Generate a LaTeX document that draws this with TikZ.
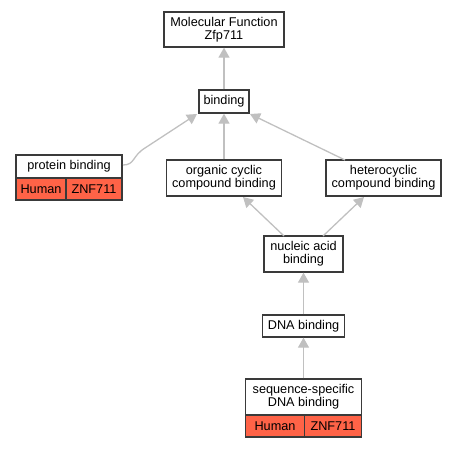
\documentclass[tikz,border=0pt]{standalone}
\usepackage{fontspec}
\setmainfont{Liberation Sans}
\usetikzlibrary{arrows.meta}
\definecolor{edgegray}{HTML}{C0C0C0}
\definecolor{boxborder}{HTML}{3A3A3A}
\definecolor{tomatofill}{HTML}{FF6347}
\tikzset{
  term/.style={draw=boxborder, line width=1.3pt, fill=white, inner sep=0pt, align=center,
    font=\fontsize{12.7}{12.7}\selectfont},
  cell/.style={draw=boxborder, line width=1.1pt, fill=tomatofill, inner sep=0pt,
    font=\fontsize{12.7}{12.7}\selectfont},
  edge/.style={draw=edgegray, line width=1.3pt, -{Triangle[length=10pt,width=11pt]}},
}
\begin{document}
\begin{tikzpicture}[x=1pt,y=-1pt]
\useasboundingbox (0,0) rectangle (457,448);
% term boxes
\node[term, minimum width=120pt, minimum height=35pt] (mf) at (224,29.5) {Molecular Function\\Zfp711};
\node[term, minimum width=50pt, minimum height=23pt] (bind) at (224,101.5) {binding};
\node[term, minimum width=106pt, minimum height=23pt] (prot) at (69,166.5) {protein binding};
\node[cell, minimum width=50pt, minimum height=22pt] (protH) at (41,189) {Human};
\node[cell, minimum width=56pt, minimum height=22pt] (protZ) at (94,189) {ZNF711};
\node[term, minimum width=115pt, minimum height=36pt] (org) at (224,178) {organic cyclic\\compound binding};
\node[term, minimum width=115pt, minimum height=36pt] (het) at (383.5,178) {heterocyclic\\compound binding};
\node[term, minimum width=79pt, minimum height=36pt] (nuc) at (303.5,254) {nucleic acid\\binding};
\node[term, minimum width=82pt, minimum height=22pt] (dna) at (303.5,326) {DNA binding};
\node[term, minimum width=116pt, minimum height=36pt] (seq) at (303.5,397) {sequence-specific\\DNA binding};
\node[cell, minimum width=59pt, minimum height=22pt] (seqH) at (275,426) {Human};
\node[cell, minimum width=57pt, minimum height=22pt] (seqZ) at (333,426) {ZNF711};
% edges
\coordinate (protE) at (123,165);
\draw[edge] (bind.north) -- (mf.south);
\draw[edge] (protE) .. controls (135,165) and (132,156) .. (145,148) -- (197,114);
\draw[edge] (org.north) -- (bind.south);
\draw[edge] (345,160) -- (250,114);
\draw[edge] (284,236) -- (243,197);
\draw[edge] (323,236) -- (364,197);
\draw[edge] (dna.north) -- (nuc.south);
\draw[edge] (seq.north) -- (dna.south);
\end{tikzpicture}
\end{document}
